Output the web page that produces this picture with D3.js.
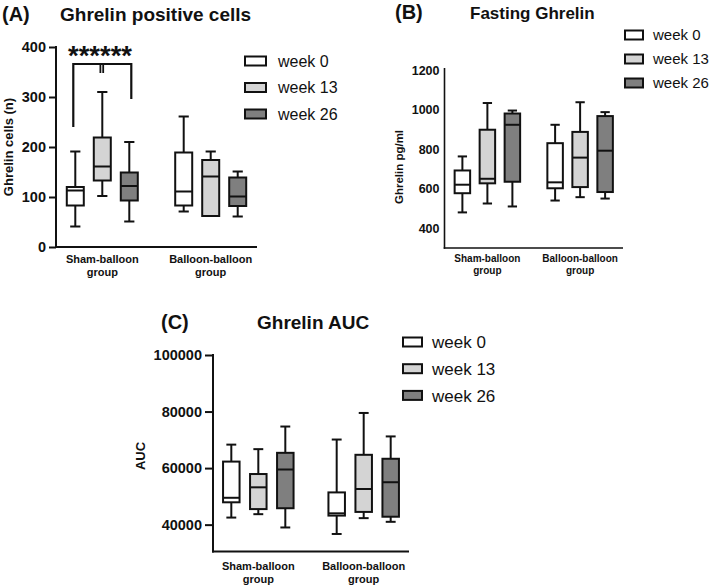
<!DOCTYPE html>
<html>
<head>
<meta charset="utf-8">
<script src="https://cdn.jsdelivr.net/npm/d3@7"></script>
<style>
  html, body { margin: 0; padding: 0; background: #fff; }
  svg { display: block; font-family: "Liberation Sans", Arial, sans-serif; }
</style>
</head>
<body>
<svg id="chart" width="709" height="586"></svg>
<script>
// ---------- data ----------
const groups = ["Sham-balloon group", "Balloon-balloon group"];
const weeks = ["week 0", "week 13", "week 26"];
const weekColors = ["#ffffff", "#d4d4d4", "#7f7f7f"];

// each box: [min, q1, median, q3, max], order: sham w0, w13, w26, balloon w0, w13, w26
const ghrelinCells = [
  [41, 83, 113, 120, 191],
  [102, 133, 161, 219, 310],
  [51, 93, 122, 149, 210],
  [71, 83, 111, 189, 261],
  [62, 62, 141, 174, 191],
  [61, 82, 101, 139, 151]
];
const ghrelinCellsTicks = [0, 100, 200, 300, 400];
// significance bracket (data units): bar level, left end, middle ends, right end
const sigBracket = [366, 240, 348, 296];
const sigLabel = "******";

const fastingGhrelin = [
  [480, 577, 620, 692, 763],
  [525, 627, 650, 898, 1033],
  [510, 635, 923, 980, 995],
  [540, 602, 632, 830, 923],
  [557, 608, 757, 887, 1037],
  [550, 583, 792, 967, 987]
];
const fastingTicks = [400, 600, 800, 1000, 1200];

const ghrelinAUC = [
  [42500, 47900, 49500, 62300, 68300],
  [43700, 45500, 53200, 57900, 66700],
  [39000, 45800, 59500, 65400, 74700],
  [36700, 43200, 44000, 51400, 70100],
  [42300, 44500, 52600, 64700, 79500],
  [41000, 42800, 55000, 63300, 71200]
];
const aucTicks = [40000, 60000, 80000, 100000];

// ---------- drawing ----------
const svg = d3.select("#chart");

function drawPanel(o) {
  const g = svg.append("g");
  const y = d3.scaleLinear().domain(o.domain).range([o.yBottom, o.yTop]);
  const xg = d3.scalePoint().domain(groups).range([o.xLeft, o.xRight]).padding(o.groupPad);
  const xw = d3.scalePoint().domain(weeks).range([-o.weekOff, o.weekOff]);

  // y axis
  const yAxis = d3.axisLeft(y).tickValues(o.ticks).tickSize(o.tickSize).tickPadding(o.tickPad)
    .tickFormat(d3.format("d"));
  const ya = g.append("g").attr("transform", `translate(${o.xLeft},0)`).call(yAxis);
  ya.select(".domain").remove();
  ya.selectAll(".tick line").attr("stroke", "#111").attr("stroke-width", o.axisW);
  ya.selectAll(".tick text").attr("fill", "#111").style("font-size", o.tickFont + "px")
    .style("font-weight", "bold").style("font-family", '"Liberation Sans", Arial, sans-serif');
  g.append("line").attr("x1", o.xLeft).attr("x2", o.xLeft)
    .attr("y1", o.axisTop).attr("y2", o.yBottom + o.axisW / 2)
    .attr("stroke", "#111").attr("stroke-width", o.axisW);
  // x axis
  g.append("line").attr("x1", o.xLeft - o.axisW / 2).attr("x2", o.xRight)
    .attr("y1", o.yBottom).attr("y2", o.yBottom)
    .attr("stroke", "#111").attr("stroke-width", o.axisW);

  // x labels
  groups.forEach(grp => {
    const parts = grp.split(" ");
    const t = g.append("text").attr("text-anchor", "middle")
      .attr("x", xg(grp)).attr("y", o.xLabY)
      .style("font-size", o.xLabFont + "px").style("font-weight", "bold").attr("fill", "#111");
    t.append("tspan").attr("x", xg(grp)).text(parts[0]);
    t.append("tspan").attr("x", xg(grp)).attr("dy", o.xLabGap).text(parts[1]);
  });

  // boxes
  const items = [];
  groups.forEach((grp, gi) => weeks.forEach((wk, wi) => {
    items.push({ grp, wk, wi, v: o.data[gi * 3 + wi] });
  }));
  const bw = o.boxW;
  const bx = g.selectAll("g.box").data(items).enter().append("g")
    .attr("transform", d => `translate(${xg(d.grp) + xw(d.wk)},0)`);
  // whiskers
  bx.append("line").attr("x1", 0).attr("x2", 0).attr("y1", d => y(d.v[0])).attr("y2", d => y(d.v[1]))
    .attr("stroke", "#111").attr("stroke-width", 2);
  bx.append("line").attr("x1", 0).attr("x2", 0).attr("y1", d => y(d.v[3])).attr("y2", d => y(d.v[4]))
    .attr("stroke", "#111").attr("stroke-width", 2);
  bx.append("line").attr("x1", -bw * 0.3).attr("x2", bw * 0.3).attr("y1", d => y(d.v[0])).attr("y2", d => y(d.v[0]))
    .attr("stroke", "#111").attr("stroke-width", 2);
  bx.append("line").attr("x1", -bw * 0.3).attr("x2", bw * 0.3).attr("y1", d => y(d.v[4])).attr("y2", d => y(d.v[4]))
    .attr("stroke", "#111").attr("stroke-width", 2);
  bx.append("rect").attr("x", -bw / 2).attr("width", bw)
    .attr("y", d => y(d.v[3])).attr("height", d => Math.max(0.5, y(d.v[1]) - y(d.v[3])))
    .attr("fill", d => weekColors[d.wi]).attr("stroke", "#111").attr("stroke-width", 2);
  bx.append("line").attr("x1", -bw / 2).attr("x2", bw / 2).attr("y1", d => y(d.v[2])).attr("y2", d => y(d.v[2]))
    .attr("stroke", "#111").attr("stroke-width", 2);

  // titles
  g.append("text").attr("x", o.tagX).attr("y", o.titleY).text(o.tag)
    .style("font-size", o.tagFont + "px").style("font-weight", "bold").attr("fill", "#111");
  g.append("text").attr("x", o.titleX).attr("y", o.titleY).text(o.title)
    .style("font-size", o.titleFont + "px").style("font-weight", "bold").attr("fill", "#111");

  // y label
  g.append("text").attr("transform", `translate(${o.yLabX},${o.yLabY}) rotate(-90)`)
    .attr("text-anchor", "middle").text(o.yLabel)
    .style("font-size", o.yLabFont + "px").style("font-weight", "bold").attr("fill", "#111");

  // legend
  const lg = g.selectAll("g.leg").data(weeks).enter().append("g")
    .attr("transform", (d, i) => `translate(${o.legX},${o.legY + i * o.legStep})`);
  lg.append("rect").attr("x", 0).attr("y", -o.legH / 2).attr("width", o.legW).attr("height", o.legH)
    .attr("fill", (d, i) => weekColors[i]).attr("stroke", "#111").attr("stroke-width", 2);
  lg.append("text").attr("x", o.legW + o.legGap).attr("y", 0).attr("dy", "0.36em").text(d => d)
    .style("font-size", o.legFont + "px").attr("fill", "#111");

  return { g, y, xg, xw };
}

// Panel A
const pA = drawPanel({
  data: ghrelinCells, domain: [0, 400], ticks: ghrelinCellsTicks,
  yBottom: 247, yTop: 47, axisTop: 46, xLeft: 56, xRight: 257, groupPad: 0.427, weekOff: 27, boxW: 17,
  tickSize: 7, tickPad: 3, tickFont: 14.5, axisW: 2,
  xLabY: 263, xLabGap: 13, xLabFont: 11,
  tag: "(A)", tagX: 2, title: "Ghrelin positive cells", titleX: 60, titleY: 21, tagFont: 20, titleFont: 19,
  yLabel: "Ghrelin cells (n)", yLabX: 13, yLabY: 147, yLabFont: 13,
  legX: 245, legY: 61, legStep: 26.5, legW: 21, legH: 9, legGap: 12, legFont: 16
});
// significance bracket in panel A
{
  const { g, y, xg, xw } = pA;
  const c = groups[0];
  const xL = xg(c) + xw(weeks[0]) - 2, xM = xg(c) + xw(weeks[1]) - 0.5, xR = xg(c) + xw(weeks[2]) + 2;
  const path = d3.path();
  path.moveTo(xL, y(sigBracket[1])); path.lineTo(xL, y(sigBracket[0]));
  path.lineTo(xR, y(sigBracket[0])); path.lineTo(xR, y(sigBracket[3]));
  g.append("path").attr("d", path.toString()).attr("fill", "none").attr("stroke", "#111").attr("stroke-width", 2.2);
  [-1.4, 1.4].forEach(dx => {
    g.append("line").attr("x1", xM + dx).attr("x2", xM + dx)
      .attr("y1", y(sigBracket[0])).attr("y2", y(sigBracket[2]))
      .attr("stroke", "#111").attr("stroke-width", 1.8);
  });
  g.append("text").attr("x", 68).attr("y", 65).text(sigLabel)
    .attr("textLength", 64).attr("lengthAdjust", "spacingAndGlyphs")
    .style("font-size", "27px").style("font-weight", "bold").attr("fill", "#111");
}

// Panel B
drawPanel({
  data: fastingGhrelin, domain: [300, 1200], ticks: fastingTicks,
  yBottom: 248, yTop: 70, axisTop: 68, xLeft: 444.5, xRight: 623, groupPad: 0.4625, weekOff: 25, boxW: 15.5,
  tickSize: 0, tickPad: 5, tickFont: 12.5, axisW: 1.6,
  xLabY: 262, xLabGap: 12, xLabFont: 10,
  tag: "(B)", tagX: 395, title: "Fasting Ghrelin", titleX: 470, titleY: 19, tagFont: 20, titleFont: 17,
  yLabel: "Ghrelin pg/ml", yLabX: 403, yLabY: 167, yLabFont: 11.5,
  legX: 625, legY: 35, legStep: 24, legW: 18, legH: 9, legGap: 10, legFont: 15
});

// Panel C
drawPanel({
  data: ghrelinAUC, domain: [30500, 100000], ticks: aucTicks,
  yBottom: 551.5, yTop: 355, axisTop: 354, xLeft: 213, xRight: 409, groupPad: 0.43, weekOff: 27, boxW: 16.5,
  tickSize: 8, tickPad: 3, tickFont: 14.5, axisW: 2,
  xLabY: 570, xLabGap: 12.5, xLabFont: 11,
  tag: "(C)", tagX: 161, title: "Ghrelin AUC", titleX: 257, titleY: 329, tagFont: 20, titleFont: 19,
  yLabel: "AUC", yLabX: 145, yLabY: 456, yLabFont: 13,
  legX: 403, legY: 342, legStep: 26.7, legW: 19, legH: 9, legGap: 10, legFont: 17
});
</script>
</body>
</html>
